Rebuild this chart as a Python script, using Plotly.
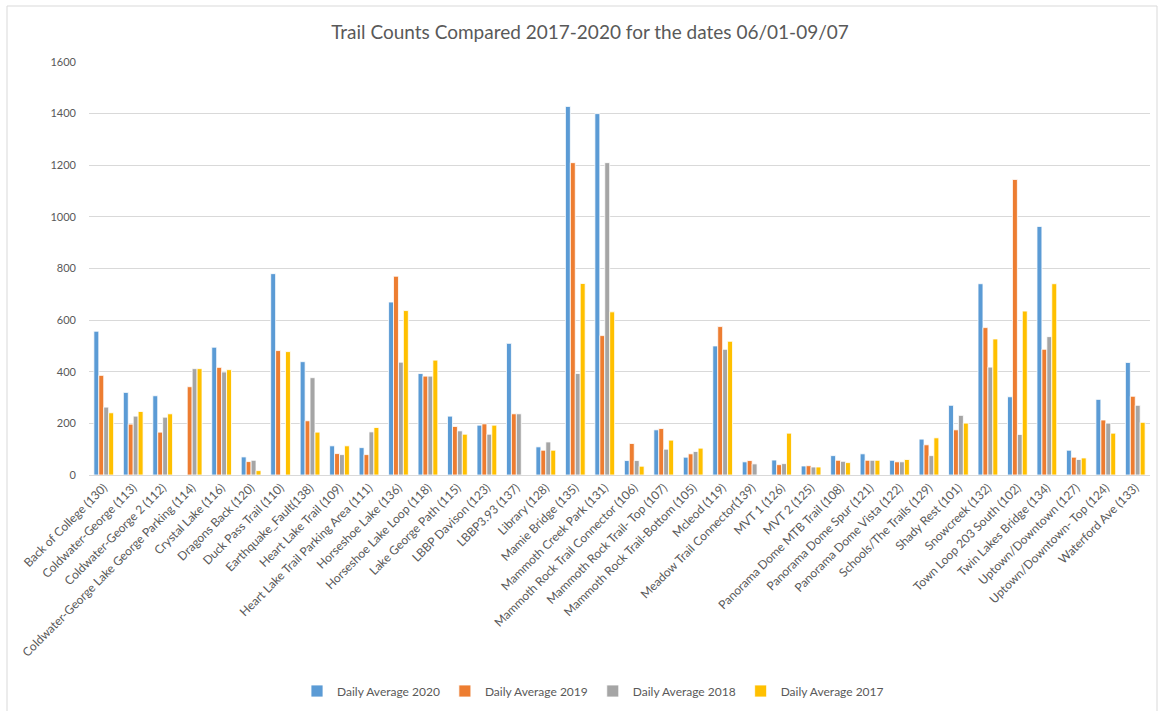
import plotly.graph_objects as go

categories = [
    "Back of College (130)", "Coldwater-George (113)", "Coldwater-George 2 (112)",
    "Coldwater-George Lake George Parking (114)", "Crystal Lake (116)", "Dragons Back (120)",
    "Duck Pass Trail (110)", "Earthquake_Fault(138)", "Heart Lake Trail (109)",
    "Heart Lake Trail Parking Area (111)", "Horseshoe Lake (136)", "Horseshoe Lake Loop (118)",
    "Lake George Path (115)", "LBBP Davison (123)", "LBBP3.93 (137)", "Library (128)",
    "Mamie Bridge (135)", "Mammoth Creek Park (131)", "Mammoth Rock Trail Connector (106)",
    "Mammoth Rock Trail- Top (107)", "Mammoth Rock Trail-Bottom (105)", "Mcleod (119)",
    "Meadow Trail Connector(139)", "MVT 1 (126)", "MVT 2 (125)", "Panorama Dome MTB Trail (108)",
    "Panorama Dome Spur (121)", "Panorama Dome Vista (122)", "Schools/The Trails (129)",
    "Shady Rest (101)", "Snowcreek (132)", "Town Loop 203 South (102)", "Twin Lakes Bridge (134)",
    "Uptown/Downtown (127)", "Uptown/Downtown- Top (124)", "Waterford Ave (133)",
]

avg_2020 = [557, 320, 307, None, 495, 70, 780, 439, 113, 106, 670, 393, 228, 193, 510, 109,
            1428, 1400, 56, 175, 69, 500, 51, 58, 35, 75, 82, 57, 139, 270, 741, 303, 963, 96, 293, 436]
avg_2019 = [386, 197, 166, 342, 417, 52, 482, 210, 83, 79, 770, 383, 188, 198, 237, 96,
            1210, 540, 122, 180, 82, 575, 56, 40, 36, 57, 57, 51, 117, 175, 571, 1145, 487, 69, 213, 305]
avg_2018 = [263, 228, 224, 412, 399, 57, None, 377, 79, 167, 437, 383, 171, 158, 237, 128,
            393, 1210, 56, 100, 91, 487, 43, 44, 31, 53, 57, 51, 75, 231, 418, 157, 536, 60, 201, 270]
avg_2017 = [241, 246, 237, 412, 408, 17, 478, 166, 113, 184, 637, 445, 158, 193, None, 96,
            742, 632, 34, 135, 104, 518, None, 162, 31, 48, 57, 60, 144, 201, 527, 635, 741, 66, 162, 204]

series_names = ["Daily Average 2020", "Daily Average 2019", "Daily Average 2018", "Daily Average 2017"]
series_colors = ["#5B9BD5", "#ED7D31", "#A5A5A5", "#FFC000"]
series_values = [avg_2020, avg_2019, avg_2018, avg_2017]

y_ticks = [0, 200, 400, 600, 800, 1000, 1200, 1400, 1600]

FONT = "Lato, 'Open Sans', sans-serif"
GREY_TXT = "#595959"

fig = go.Figure()
for name, color, vals in zip(series_names, series_colors, series_values):
    fig.add_trace(go.Bar(
        x=categories, y=vals, name=name,
        marker=dict(color=color, line=dict(color="white", width=0.8)),
        hoverinfo="skip",
    ))

L, R, T, B = 89, 11, 62, 236
W, H = 1161, 711
pw, ph = W - L - R, H - T - B

def px(x):
    return (x - L) / pw

def py(y):
    return (H - B - y) / ph

fig.update_layout(
    width=W, height=H,
    margin=dict(l=L, r=R, t=T, b=B, autoexpand=False),
    paper_bgcolor="white", plot_bgcolor="white",
    barmode="group", bargap=0.33, bargroupgap=0.0,
    font=dict(family=FONT, color=GREY_TXT, size=11),
    title=dict(text="Trail Counts Compared 2017-2020 for the dates 06/01-09/07",
               x=px(590), xref="paper", xanchor="center", y=1 - 32 / H, yanchor="middle",
               font=dict(family=FONT, size=19, color=GREY_TXT)),
    showlegend=True,
    legend=dict(orientation="h", x=px(593), xanchor="center", xref="paper",
                y=py(691), yanchor="middle",
                font=dict(family=FONT, size=12, color=GREY_TXT),
                itemwidth=30, tracegroupgap=0),
    xaxis=dict(
        type="category", tickangle=-45, showgrid=False,
        showline=True, linecolor="#D9D9D9", linewidth=1,
        ticks="", tickfont=dict(family=FONT, size=12, color=GREY_TXT),
        automargin=False,
    ),
    yaxis=dict(
        range=[0, 1600], tickvals=y_ticks, ticktext=[str(v) for v in y_ticks],
        showgrid=True, gridcolor="#D9D9D9", gridwidth=1,
        zeroline=False, showline=False, ticks="",
        ticklabelstandoff=12,
        tickfont=dict(family=FONT, size=11, color=GREY_TXT),
        automargin=False,
    ),
    shapes=[
        dict(type="rect", xref="paper", yref="paper",
             x0=px(7), x1=px(1157), y0=py(716), y1=py(6),
             line=dict(color="#D9D9D9", width=1), fillcolor="rgba(0,0,0,0)", layer="below"),
    ],
)

fig.write_html("out.html")
